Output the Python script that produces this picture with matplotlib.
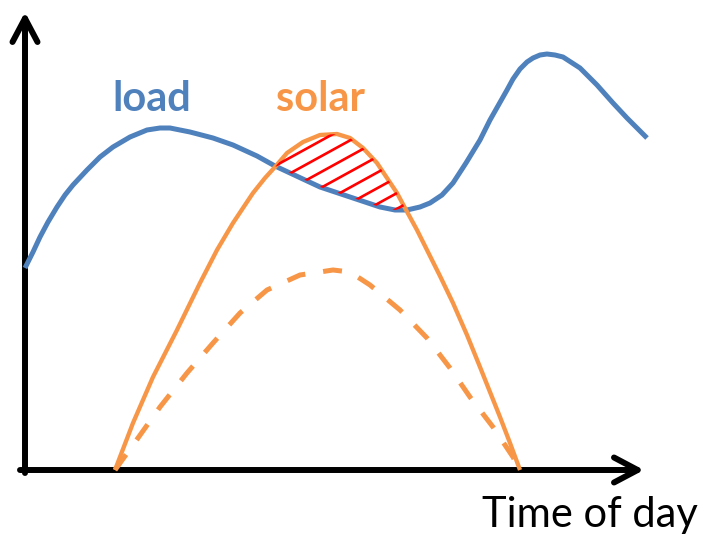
import numpy as np
import matplotlib
matplotlib.use("Agg")
import matplotlib.pyplot as plt
from matplotlib.collections import LineCollection

# values (arbitrary units: time along x, power along y)
load_t = [1, 9, 16, 24, 33, 41, 49, 63, 76, 89, 106, 123, 136, 146, 156, 166, 189, 209,
          233, 251, 266, 296, 329, 356, 371, 383, 396, 406, 418, 429, 442, 456, 466, 483,
          489, 496, 503, 509, 516, 523, 531, 539, 556, 573, 589, 603, 623]
load_p = [202, 218, 233, 248, 263, 275, 285, 300, 313, 323, 333, 340, 342, 342, 340, 338, 332, 325,
          314, 304, 297, 283, 272, 263, 260, 260, 263, 267, 275, 287, 307, 330, 350, 380,
          391, 401, 408, 412, 415, 416, 415, 413, 402, 385, 367, 352, 332]

solar_t = [91, 109, 129, 153, 176, 193, 209, 229, 241, 251, 263, 279, 296, 313, 326, 339,
           353, 363, 373, 381, 393, 403, 416, 429, 443, 456, 466, 476, 486, 496]
solar_p = [0, 47, 93, 140, 187, 220, 247, 277, 292, 303, 317, 328, 335, 336, 332, 322,
           307, 292, 277, 262, 240, 220, 194, 167, 135, 103, 78, 53, 27, 0]

reduced_t = [91, 114, 136, 163, 189, 216, 243, 276, 309, 326, 346, 376, 403, 426, 446, 469, 489, 496]
reduced_p = [0, 32, 63, 97, 127, 157, 180, 195, 200, 198, 185, 160, 132, 102, 73, 43, 13, 0]

# where solar rises above the load
cross_lo, cross_hi = 250, 382

BLUE = "#4F81BD"
ORANGE = "#F79646"

fig = plt.figure(figsize=(7.06, 5.37), dpi=100)
ax = fig.add_axes([0, 0, 1, 1])
ax.set_xlim(-24, 682)
ax.set_ylim(-67, 470)
ax.axis("off")

# axes with open arrow heads
arrow = dict(arrowstyle="->,head_length=0.85,head_width=0.45", lw=4.3, color="black",
             shrinkA=0, shrinkB=0, mutation_scale=20)
ax.annotate("", xy=(1, 458), xytext=(1, -3), arrowprops=arrow)
ax.annotate("", xy=(620, 0), xytext=(-4, 0), arrowprops=arrow)

ax.plot(load_t, load_p, color=BLUE, lw=3.6, solid_capstyle="butt",
        solid_joinstyle="round", zorder=3)
ax.plot(solar_t, solar_p, color=ORANGE, lw=3.1, solid_capstyle="butt",
        solid_joinstyle="round", zorder=4)
ax.plot(reduced_t, reduced_p, color=ORANGE, lw=3.6, dashes=(3.8, 3.6),
        dash_capstyle="butt", zorder=4)

# hatched surplus region between solar and load
lt, lp = np.array(load_t), np.array(load_p)
st, sp = np.array(solar_t), np.array(solar_p)
ms = (st >= cross_lo) & (st <= cross_hi)
ml = (lt >= cross_lo) & (lt <= cross_hi)
poly_x = np.concatenate([st[ms], lt[ml][::-1]])
poly_y = np.concatenate([sp[ms], lp[ml][::-1]])
region = ax.fill(poly_x, poly_y, facecolor="none", edgecolor="none")[0]

slope = 0.55
segs = []
for c in np.arange(166, 50, -15.7):
    segs.append([(230, c + slope * 230), (400, c + slope * 400)])
hatch = LineCollection(segs, colors="#FF0000", linewidths=1.9, zorder=5)
ax.add_collection(hatch)
hatch.set_clip_path(region)

ax.text(88, 359, "load", color=BLUE, fontsize=30, fontweight="bold",
        family="Lato", ha="left", va="baseline")
ax.text(252, 359, "solar", color=ORANGE, fontsize=30, fontweight="bold",
        family="Lato", ha="left", va="baseline")
ax.text(458, -57, "Time of day", color="black", fontsize=30,
        family="Lato", ha="left", va="baseline")

fig.savefig("out.png", dpi=100)
